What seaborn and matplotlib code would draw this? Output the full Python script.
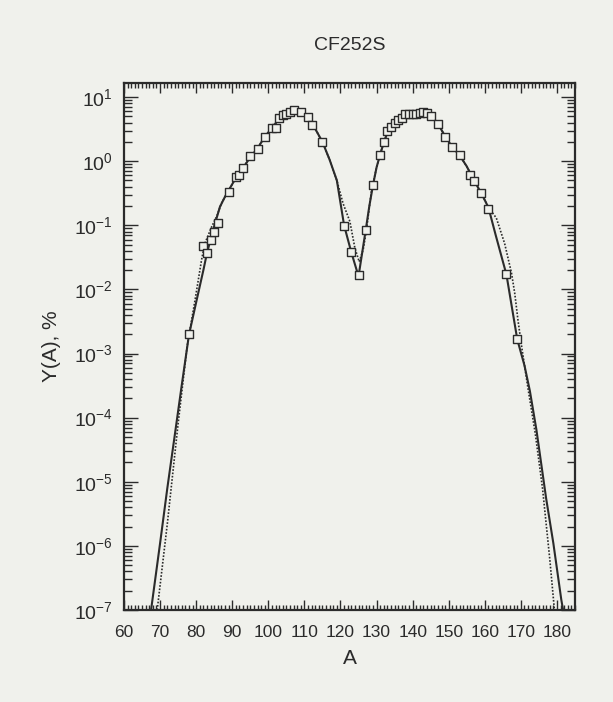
import matplotlib
matplotlib.use('Agg')
import matplotlib.pyplot as plt
import matplotlib.ticker as mticker
import seaborn as sns

# fragment mass yields of Cf-252 spontaneous fission, Y(A) in %
# solid curve (calculation)
calc_a = [67.5, 70, 72, 74, 76, 78, 80, 82, 83, 84.7, 86.6, 88, 89, 91, 93, 95, 97, 99,
          101, 103, 105, 107, 109, 111, 112, 113, 115, 117, 119, 121, 123, 125, 127, 128,
          129, 130, 131, 132, 133, 134, 135, 136, 137, 138, 139, 140, 141, 142, 143, 144,
          145, 146, 147, 149, 151, 153, 155, 157, 159, 161, 163, 166, 169, 171, 172.5, 174.3,
          177, 179, 181.2, 181.7]
calc_y = [1.0e-7, 1.1e-6, 7.9e-6, 5.0e-5, 3.2e-4, 1.95e-3, 6.3e-3, 2.0e-2, 3.7e-2, 8.5e-2,
          0.195, 0.28, 0.35, 0.55, 0.79, 1.15, 1.58, 2.4, 3.3, 4.6, 5.6, 6.2, 5.9, 4.8, 4.0,
          3.2, 2.0, 1.05, 0.5, 0.1, 0.038, 0.016, 0.085, 0.2, 0.42, 0.8, 1.28, 1.95, 2.8, 3.4,
          4.0, 4.5, 4.9, 5.3, 5.5, 5.6, 5.65, 5.7, 5.75, 5.5, 5.0, 4.5, 3.85, 2.45, 1.65,
          1.24, 0.83, 0.5, 0.32, 0.19, 0.071, 0.017, 1.66e-3, 6.5e-4, 2.6e-4, 6.5e-5,
          5.5e-6, 1.1e-6, 1.45e-7, 1.0e-7]

# dotted curve (second calculation)
alt_a = [69.2, 72, 75, 77.5, 79.7, 81.5, 82.4, 84.3, 85.7, 87, 89, 91, 93, 95, 97, 99,
         101, 103, 105, 107, 109, 111, 112, 113, 115, 117, 119, 120.7, 122.6, 124, 125.2,
         126.3, 127.2, 128.6, 130, 131, 132, 133, 134, 135, 136, 137, 138, 139, 140, 141,
         142, 143, 144, 145, 146, 147, 149, 151, 153, 155, 157, 159, 161, 163.2, 165.5,
         167.4, 168.3, 169.2, 170.2, 172, 174, 176, 178, 179.3]
alt_y = [1.0e-7, 2.2e-6, 8.1e-5, 1.3e-3, 6.9e-3, 2.9e-2, 5.2e-2, 9.5e-2, 0.138, 0.22,
         0.35, 0.55, 0.79, 1.15, 1.58, 2.4, 3.3, 4.6, 5.6, 6.2, 5.9, 4.8, 4.0, 3.2, 2.0,
         1.05, 0.5, 0.22, 0.115, 0.044, 0.027, 0.042, 0.085, 0.35, 0.8, 1.28, 1.95, 2.8,
         3.4, 4.0, 4.5, 4.9, 5.3, 5.5, 5.6, 5.65, 5.7, 5.75, 5.5, 5.0, 4.5, 3.85, 2.45,
         1.65, 1.24, 0.83, 0.5, 0.32, 0.19, 0.13, 0.052, 0.018, 8.7e-3, 3.3e-3, 1.3e-3,
         2.8e-4, 5.6e-5, 7.9e-6, 6.3e-7, 1.0e-7]

# measured yields (open squares)
exp_a = [78, 82, 83, 84, 85, 86, 89, 91, 92, 93, 95, 97, 99, 101, 102, 103, 104, 105,
         106, 107, 109, 111, 112, 115, 121, 123, 125, 127, 129, 131, 132, 133, 134, 135,
         136, 137, 138, 139, 140, 141, 142, 143, 144, 145, 147, 149, 151, 153, 156, 157,
         159, 161, 166, 169]
exp_y = [2.0e-3, 0.048, 0.037, 0.06, 0.078, 0.11, 0.33, 0.575, 0.61, 0.78, 1.2, 1.54,
         2.42, 3.27, 3.27, 4.8, 5.3, 5.5, 5.8, 6.2, 5.9, 4.85, 3.7, 2.0, 0.099, 0.038,
         0.0165, 0.085, 0.42, 1.25, 2.0, 3.0, 3.4, 3.9, 4.4, 4.8, 5.4, 5.5, 5.5, 5.5, 5.6,
         5.9, 5.6, 5.0, 3.8, 2.4, 1.64, 1.23, 0.61, 0.49, 0.32, 0.18, 0.0175, 1.66e-3]

paper = '#f0f1ec'
ink = '#2b2b2b'

sns.set_theme(style='ticks')
plt.rcParams['font.family'] = ['Liberation Sans', 'DejaVu Sans']
plt.rcParams['mathtext.fontset'] = 'custom'
plt.rcParams['mathtext.rm'] = 'Liberation Sans'
plt.rcParams['mathtext.it'] = 'Liberation Sans'

fig = plt.figure(figsize=(6.13, 7.02), dpi=100, facecolor=paper)
ax = fig.add_axes([0.2023, 0.1311, 0.7357, 0.7507], facecolor=paper)
ax.set_yscale('log')

sns.lineplot(x=calc_a, y=calc_y, ax=ax, color=ink, linewidth=1.5, estimator=None, sort=False)
sns.lineplot(x=alt_a, y=alt_y, ax=ax, color=ink, linewidth=1.2, linestyle=(0, (1, 1)),
             estimator=None, sort=False)
sns.scatterplot(x=exp_a, y=exp_y, ax=ax, marker='s', s=28, facecolor=paper,
                edgecolor=ink, linewidth=1.0, zorder=3)

ax.set_xlim(60, 185)
ax.set_ylim(1e-7, 16.6)

ax.xaxis.set_major_locator(mticker.MultipleLocator(10))
ax.xaxis.set_minor_locator(mticker.MultipleLocator(1))
ax.xaxis.set_major_formatter(mticker.FuncFormatter(lambda v, p: '%d' % v if v <= 180 else ''))
ax.yaxis.set_major_locator(mticker.LogLocator(base=10, numticks=20))
ax.yaxis.set_minor_locator(mticker.LogLocator(base=10, subs=range(2, 10), numticks=20))
ax.yaxis.set_minor_formatter(mticker.NullFormatter())

ax.tick_params(axis='both', which='both', direction='in', top=True, right=True,
               color=ink, labelcolor=ink, width=1.0)
ax.tick_params(axis='x', which='major', length=7, labelsize=12.5, pad=11)
ax.tick_params(axis='x', which='minor', length=3.5)
ax.tick_params(axis='y', which='major', length=10, labelsize=14, pad=8)
ax.tick_params(axis='y', which='minor', length=6)

for sp in ax.spines.values():
    sp.set_color(ink)
    sp.set_linewidth(1.6)

ax.set_title('CF252S', fontsize=14, color=ink, pad=24)
ax.set_xlabel('A', fontsize=15, color=ink, labelpad=6)
ax.set_ylabel('Y(A), %', fontsize=15, color=ink, labelpad=9)

fig.savefig('out.png', dpi=100, facecolor=paper)
